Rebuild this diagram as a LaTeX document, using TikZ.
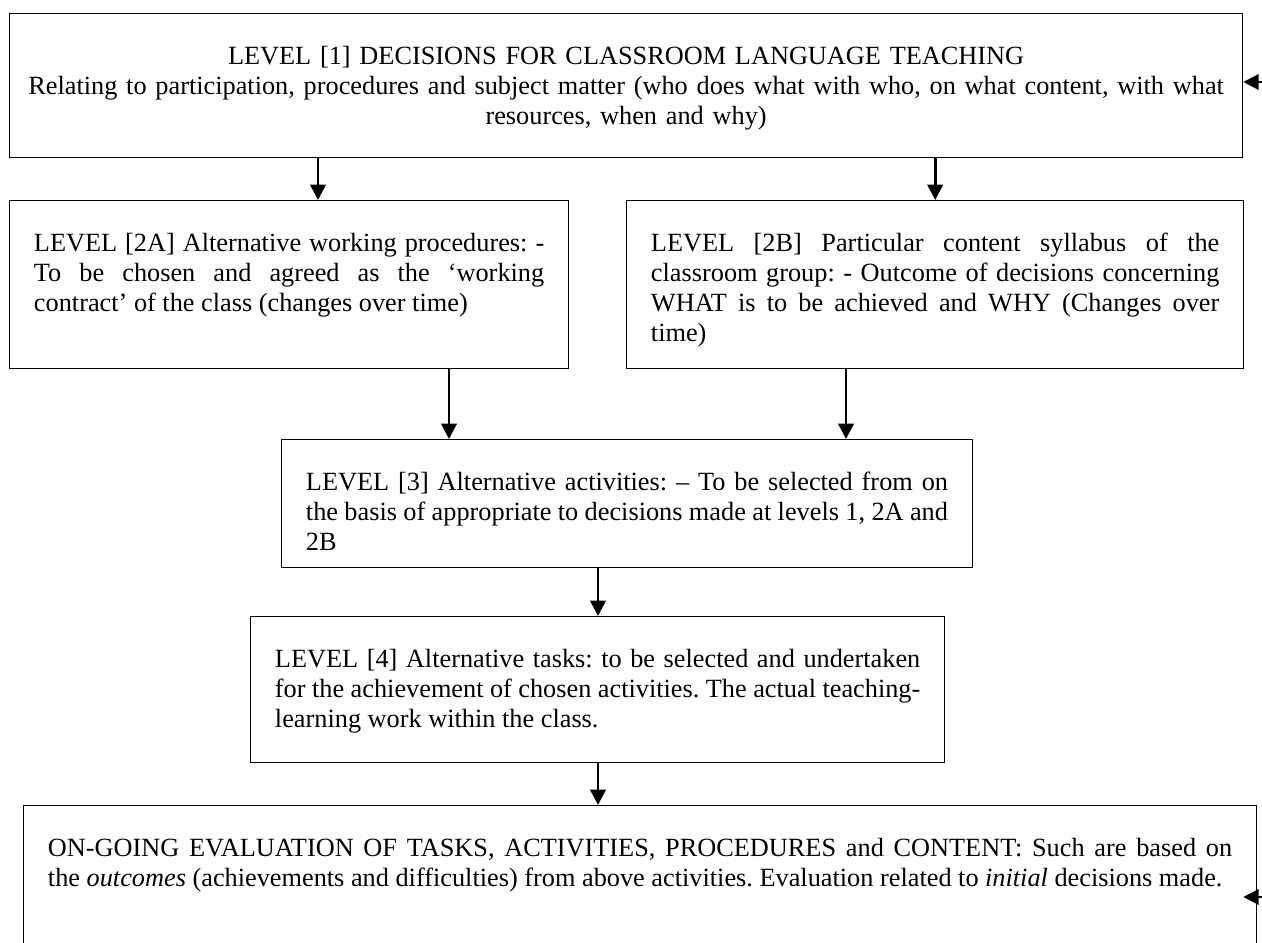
\documentclass[tikz,border=0pt]{standalone}
\usepackage{fontspec}
\setmainfont{Liberation Serif}
\usetikzlibrary{arrows.meta}
\tikzset{%
  lvlbox/.style = {draw, rectangle, anchor=north west, align=justify,
    line width=0.6pt, inner xsep=11pt, inner ysep=0pt, text height=23pt},
  flow/.style   = {->, line width=1.3pt},
  fb/.style     = {coordinate} % feedback line, off the page
}
\hyphenpenalty=10000
\frenchspacing

\begin{document}
\begin{tikzpicture}[x=0.4525pt, y=-0.4525pt, >={Triangle[length=7pt,width=7pt]},
  font=\fontsize{11.9pt}{13.6pt}\selectfont]

  \useasboundingbox (0,0) rectangle (1262,943);
  \clip (0,0) rectangle (1262,943);

  \node[lvlbox, align=center, inner xsep=0pt, text width=557.9pt, text depth=42.2pt] (l1) at (9,13)
    {LEVEL [1] DECISIONS FOR CLASSROOM LANGUAGE TEACHING\\
     Relating to participation, procedures and subject matter (who does what with who, on what content, with what\\
     resources, when and why)};
  \node[lvlbox, text width=230.9pt, text depth=53pt] (l2a) at (9,200)
    {LEVEL [2A] Alternative working procedures: -\linebreak To be chosen and agreed as the ‘working\linebreak contract’ of the class (changes over time)};
  \node[lvlbox, text width=257.2pt, text depth=53pt] (l2b) at (626,200)
    {LEVEL [2B] Particular content syllabus of the\linebreak classroom group: - Outcome of decisions concerning\linebreak WHAT is to be achieved and WHY (Changes over\linebreak time)};
  \node[lvlbox, text width=290.5pt, text depth=34.9pt] (l3) at (281,439)
    {LEVEL [3] Alternative activities: -- To be selected from on\linebreak the basis of appropriate to decisions made at levels 1, 2A and\linebreak 2B};
  \node[lvlbox, text width=292pt, text depth=43.1pt] (l4) at (250,616)
    {LEVEL [4] Alternative tasks: to be selected and undertaken\linebreak for the achievement of chosen activities. The actual teaching-\linebreak learning work within the class.};
  \node[lvlbox, text width=535.9pt, text depth=67.5pt] (eval) at (23,805)
    {ON-GOING EVALUATION OF TASKS, ACTIVITIES, PROCEDURES and CONTENT: Such are based on\linebreak the \textit{outcomes} (achievements and difficulties) from above activities. Evaluation related to \textit{initial} decisions made.};

  \draw[flow] (318,0 |- l1.south) -- (318,0 |- l2a.north);
  \draw[flow] (l2b.north |- l1.south) -- (l2b.north);
  \draw[flow] (449,0 |- l2a.south) -- (449,0 |- l3.north);
  \draw[flow] (846,0 |- l2b.south) -- (846,0 |- l3.north);
  \draw[flow] (598,0 |- l3.south) -- (598,0 |- l4.north);
  \draw[flow] (598,0 |- l4.south) -- (598,0 |- eval.north);

  \node[fb] (fbtop) at (1275,82) {};
  \node[fb] (fbbot) at (1275,897) {};
  \draw[->, line width=1pt] (fbtop) -- (fbtop -| l1.east);
  \draw[->, line width=1pt] (fbbot) -- (fbbot -| l1.east);

\end{tikzpicture}
\end{document}
